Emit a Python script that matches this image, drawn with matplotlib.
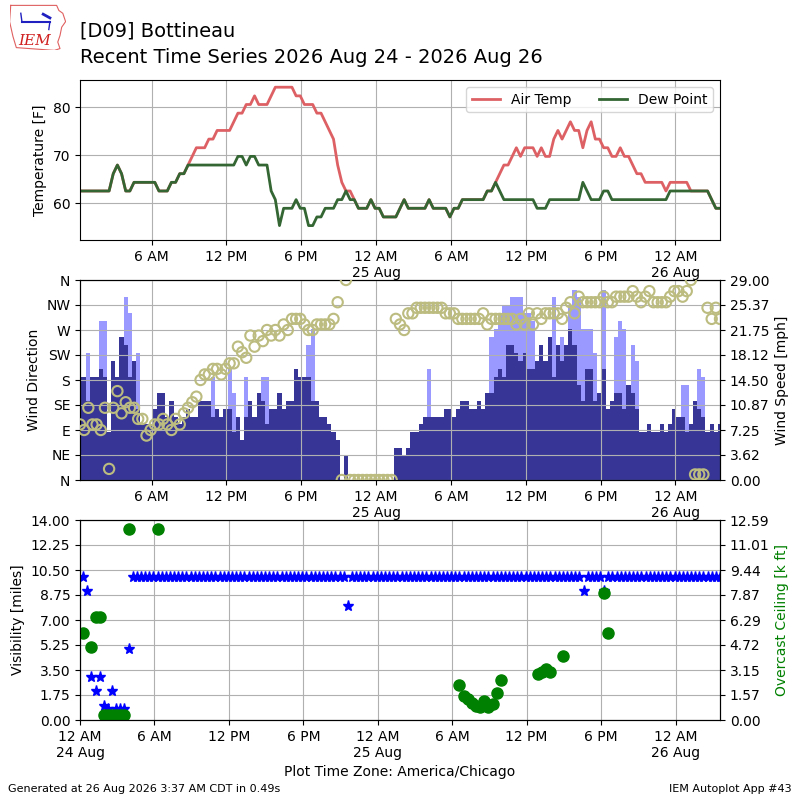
import numpy as np
import pandas as pd
import matplotlib
matplotlib.use("Agg")
import matplotlib.pyplot as plt
import matplotlib.dates as mdates
from matplotlib.ticker import FuncFormatter, FixedLocator

# ---------------- data ----------------
station = "[D09] Bottineau"
subtitle = "Recent Time Series 2026 Aug 24 - 2026 Aug 26"
generated = "Generated at 26 Aug 2026 3:37 AM CDT in 0.49s"
app_label = "IEM Autoplot App #43"
tz_label = "Plot Time Zone: America/Chicago"

times = pd.date_range("2026-08-24 00:15", periods=155, freq="20min")

tmpf = [
    62.6, 62.6, 62.6, 62.6, 62.6, 62.6, 62.6, 62.6, 66.2, 68.0,
    66.2, 62.6, 62.6, 64.4, 64.4, 64.4, 64.4, 64.4, 64.4, 62.6,
    62.6, 62.6, 64.4, 64.4, 66.2, 66.2, 68.0, 69.8, 71.6, 71.6,
    71.6, 73.4, 73.4, 75.2, 75.2, 75.2, 75.2, 77.0, 78.8, 78.8,
    80.6, 80.6, 82.4, 80.6, 80.6, 80.6, 82.4, 84.2, 84.2, 84.2,
    84.2, 84.2, 82.4, 82.4, 80.6, 80.6, 80.6, 78.8, 78.8, 77.0,
    75.2, 73.4, 68.0, 64.4, 62.6, 62.6, 60.8, 59.0, 59.0, 59.0,
    60.8, 59.0, 59.0, 57.2, 57.2, 57.2, 57.2, 59.0, 60.8, 59.0,
    59.0, 59.0, 59.0, 59.0, 60.8, 59.0, 59.0, 59.0, 59.0, 57.2,
    59.0, 59.0, 60.8, 60.8, 60.8, 60.8, 60.8, 60.8, 62.6, 62.6,
    64.4, 66.2, 68.0, 68.0, 69.8, 71.6, 69.8, 71.6, 71.6, 71.6,
    69.8, 71.6, 69.8, 69.8, 73.4, 75.2, 73.4, 75.2, 77.0, 75.2,
    75.2, 71.6, 75.2, 77.0, 73.4, 73.4, 71.6, 71.6, 69.8, 69.8,
    71.6, 69.8, 69.8, 68.0, 66.2, 66.2, 64.4, 64.4, 64.4, 64.4,
    64.4, 62.6, 64.4, 64.4, 64.4, 64.4, 64.4, 62.6, 62.6, 62.6,
    62.6, 62.6, 60.8, 59.0, 59.0,
]

dwpf = [
    62.6, 62.6, 62.6, 62.6, 62.6, 62.6, 62.6, 62.6, 66.2, 68.0,
    66.2, 62.6, 62.6, 64.4, 64.4, 64.4, 64.4, 64.4, 64.4, 62.6,
    62.6, 62.6, 64.4, 64.4, 66.2, 66.2, 68.0, 68.0, 68.0, 68.0,
    68.0, 68.0, 68.0, 68.0, 68.0, 68.0, 68.0, 68.0, 69.8, 69.8,
    68.0, 69.8, 69.8, 68.0, 68.0, 68.0, 62.6, 60.8, 55.4, 59.0,
    59.0, 59.0, 60.8, 59.0, 59.0, 55.4, 55.4, 57.2, 57.2, 59.0,
    59.0, 59.0, 60.8, 60.8, 62.6, 60.8, 60.8, 59.0, 59.0, 59.0,
    60.8, 59.0, 59.0, 57.2, 57.2, 57.2, 57.2, 59.0, 60.8, 59.0,
    59.0, 59.0, 59.0, 59.0, 60.8, 59.0, 59.0, 59.0, 59.0, 57.2,
    59.0, 59.0, 60.8, 60.8, 60.8, 60.8, 60.8, 60.8, 62.6, 62.6,
    64.4, 62.6, 60.8, 60.8, 60.8, 60.8, 60.8, 60.8, 60.8, 60.8,
    59.0, 59.0, 59.0, 60.8, 60.8, 60.8, 60.8, 60.8, 60.8, 60.8,
    60.8, 64.4, 62.6, 60.8, 60.8, 60.8, 62.6, 62.6, 60.8, 60.8,
    60.8, 60.8, 60.8, 60.8, 60.8, 60.8, 60.8, 60.8, 60.8, 60.8,
    60.8, 60.8, 62.6, 62.6, 62.6, 62.6, 62.6, 62.6, 62.6, 62.6,
    62.6, 62.6, 60.8, 59.0, 59.0,
]

# wind speed [kt]
sknt = [
    13, 13, 10, 13, 13, 14, 13, 6, 15, 13,
    18, 17, 13, 15, 9, 7, 7, 7, 9, 11,
    11, 8, 10, 8, 7, 8, 9, 8, 8, 10,
    10, 10, 8, 9, 8, 9, 9, 6, 8, 5,
    8, 10, 8, 11, 10, 7, 9, 9, 11, 9,
    10, 10, 14, 13, 13, 13, 10, 10, 8, 8,
    7, 6, 5, 0, 3, 0, 0, 0, 0, 0,
    0, 0, 0, 0, 0, 0, 4, 4, 3, 4,
    6, 6, 7, 8, 8, 8, 8, 8, 9, 9,
    8, 9, 10, 10, 9, 9, 10, 9, 11, 11,
    13, 14, 13, 17, 17, 16, 15, 16, 14, 14,
    15, 17, 15, 18, 13, 17, 15, 17, 19, 17,
    12, 10, 14, 14, 10, 11, 14, 9, 10, 11,
    11, 9, 12, 11, 9, 6, 6, 7, 6, 6,
    7, 6, 7, 9, 8, 8, 6, 7, 10, 9,
    8, 6, 7, 6, 7,
]

# wind gusts [kt] (observation index, value)
gust_idx = [2, 5, 6, 11, 12, 14, 32, 36, 37, 40, 44, 45, 55, 56, 84, 99,
            100, 101, 102, 103, 104, 105, 106, 107, 108, 109, 114, 116, 118,
            119, 120, 121, 122, 123, 124, 126, 129, 130, 131, 133, 134, 145,
            146, 149, 150]
gust_kt = [16, 20, 20, 23, 21, 16, 13, 14, 11, 13, 13, 13, 17, 19, 14, 18,
           19, 21, 22, 22, 23, 23, 23, 21, 21, 20, 23, 18, 22,
           24, 23, 19, 19, 19, 16, 24, 18, 20, 19, 17, 15, 12,
           12, 14, 13]

# wind direction [deg]
drct = [
    100, 90, 130, 100, 100, 90, 130, 20, 130, 160,
    120, 140, 130, 130, 110, 110, 80, 90, 100, 100,
    110, 100, 90, 110, 100, 120, 130, 140, 150, 180,
    190, 190, 200, 200, 190, 200, 210, 210, 240, 230,
    220, 260, 240, 260, 250, 270, 260, 270, 260, 280,
    270, 290, 290, 290, 280, 270, 270, 280, 280, 280,
    280, 290, 320, 0, 360, 0, 0, 0, 0, 0,
    0, 0, 0, 0, 0, 0, 290, 280, 270, 300,
    300, 310, 310, 310, 310, 310, 310, 310, 300, 300,
    300, 290, 290, 290, 290, 290, 290, 300, 280, 290,
    290, 290, 290, 290, 290, 280, 290, 280, 300, 280,
    300, 290, 300, 300, 300, 300, 290, 310, 320, 300,
    330, 320, 320, 320, 320, 320, 330, 320, 320, 330,
    330, 330, 330, 340, 330, 320, 330, 340, 320, 320,
    320, 320, 330, 340, 340, 330, 340, 360, 10, 10,
    10, 310, 290, 310, 290,
]

# visibility [miles]
vsby = [
    10, 9, 3, 2, 3, 1, 0.75, 2, 0.75, 0.75,
    0.75, 5, 10, 10, 10, 10, 10, 10, 10, 10,
    10, 10, 10, 10, 10, 10, 10, 10, 10, 10,
    10, 10, 10, 10, 10, 10, 10, 10, 10, 10,
    10, 10, 10, 10, 10, 10, 10, 10, 10, 10,
    10, 10, 10, 10, 10, 10, 10, 10, 10, 10,
    10, 10, 10, 10, 8, 10, 10, 10, 10, 10,
    10, 10, 10, 10, 10, 10, 10, 10, 10, 10,
    10, 10, 10, 10, 10, 10, 10, 10, 10, 10,
    10, 10, 10, 10, 10, 10, 10, 10, 10, 10,
    10, 10, 10, 10, 10, 10, 10, 10, 10, 10,
    10, 10, 10, 10, 10, 10, 10, 10, 10, 10,
    10, 9, 10, 10, 10, 10, 9, 10, 10, 10,
    10, 10, 10, 10, 10, 10, 10, 10, 10, 10,
    10, 10, 10, 10, 10, 10, 10, 10, 10, 10,
    10, 10, 10, 10, 10,
]

# overcast ceiling [k ft] (observation index, value)
ceil_idx = [0, 2, 3, 4, 5, 6, 7, 8, 9, 10, 11, 18,
            91, 92, 93, 94, 95, 96, 97, 98, 99, 100, 101,
            110, 111, 112, 113, 116, 126, 127]
ceil_kft = [5.5, 4.6, 6.5, 6.5, 0.3, 0.3, 0.3, 0.3, 0.3, 0.3, 12.0, 12.0,
            2.2, 1.5, 1.3, 1.1, 0.9, 0.8, 1.2, 0.8, 1.0, 1.7, 2.5,
            2.9, 3.0, 3.2, 3.0, 4.0, 8.0, 5.5]

dir_labels = ["N", "NE", "E", "SE", "S", "SW", "W", "NW", "N"]
KT2MPH = 1.15078

# ---------------- plotting ----------------
smph = np.array(sknt, dtype=float) * KT2MPH
gmph = np.array(gust_kt, dtype=float) * KT2MPH
gtimes = times[gust_idx]
ctimes = times[ceil_idx]


def time_fmt(x, pos=None):
    dt = mdates.num2date(x)
    if dt.hour == 0:
        return dt.strftime("12 AM\n%d %b")
    return dt.strftime("%-I %p")


def style_time_axis(ax):
    ax.xaxis.set_major_locator(mdates.HourLocator(byhour=[0, 6, 12, 18]))
    ax.xaxis.set_major_formatter(FuncFormatter(time_fmt))


fig = plt.figure(figsize=(8, 8), dpi=100)

# logo
lax = fig.add_axes([0.012, 0.937, 0.07, 0.058])
lax.set_xlim(0, 1)
lax.set_ylim(0, 1)
lax.axis("off")
iowa_x = [0.02, 0.84, 0.88, 0.95, 1.0, 0.93, 0.9, 0.86, 0.9, 0.8, 0.12, 0.06, 0.0, 0.02]
iowa_y = [0.97, 0.97, 0.86, 0.8, 0.62, 0.5, 0.32, 0.18, 0.04, 0.0, 0.06, 0.3, 0.62, 0.97]
lax.plot(iowa_x, iowa_y, color="#e06060", lw=0.8)
lax.plot([0.22, 0.72], [0.62, 0.62], color="#2020c0", lw=1.5)
lax.plot([0.22, 0.2], [0.62, 0.8], color="#2020c0", lw=1)
lax.plot([0.6, 0.72], [0.78, 0.7], color="#2020c0", lw=2)
lax.plot([0.72, 0.7], [0.62, 0.45], color="#2020c0", lw=1)
lax.text(0.45, 0.06, "IEM", color="#d02020", fontsize=11, family="DejaVu Serif",
         style="italic", ha="center", va="bottom")

fig.text(0.1, 0.954, station, fontsize=14, va="baseline")
fig.text(0.1, 0.921, subtitle, fontsize=14, va="baseline")

# ---- temperature panel ----
ax1 = fig.add_axes([0.1, 0.7, 0.8, 0.2])
ax1.plot(times, tmpf, color="#dd6064", lw=2, label="Air Temp")
ax1.plot(times, dwpf, color="#336633", lw=2, label="Dew Point")
ax1.set_ylim(52.4, 85.7)
ax1.set_yticks([60, 70, 80])
ax1.set_ylabel("Temperature [F]")
ax1.set_xlim(times[0], times[-1])
style_time_axis(ax1)
ax1.grid(True)
ax1.legend(loc="upper right", ncol=2)

# ---- wind panel ----
ax2 = fig.add_axes([0.1, 0.4, 0.8, 0.25])
ax2s = ax2.twinx()
ax2s.set_zorder(ax2.get_zorder() - 1)
ax2.patch.set_visible(False)
width = 1.0 / 72.0
ax2s.bar(gtimes, gmph, width=width, color="#9999ff", align="center")
ax2s.bar(times, smph, width=width, color="#373696", align="center")
top = max(gust_kt) * KT2MPH * 1.05
ax2s.set_ylim(0, top)
ax2s.yaxis.set_major_locator(FixedLocator(np.linspace(0, top, 9)))
ax2s.yaxis.set_major_formatter(FuncFormatter(lambda v, p: "%.2f" % v))
ax2s.set_ylabel("Wind Speed [mph]")

ax2.scatter(times, drct, s=55, facecolor="none", edgecolor="#bcbc80", linewidths=1.5, zorder=5)
ax2.set_ylim(0, 360)
ax2.set_yticks(range(0, 361, 45))
ax2.set_yticklabels(dir_labels)
ax2.set_ylabel("Wind Direction")
ax2.set_xlim(times[0], times[-1])
style_time_axis(ax2)
ax2.grid(True)

# ---- visibility / ceiling panel ----
ax3 = fig.add_axes([0.1, 0.1, 0.8, 0.25])
ax3.plot(times, vsby, "*", color="b", ms=8, ls="none")
ax3.set_ylim(0, 14)
ax3.yaxis.set_major_locator(FixedLocator(np.linspace(0, 14, 9)))
ax3.yaxis.set_major_formatter(FuncFormatter(lambda v, p: "%.2f" % v))
ax3.set_ylabel("Visibility [miles]")
ax3.set_xlim(pd.Timestamp("2026-08-24 00:00"), times[-1])
style_time_axis(ax3)
ax3.grid(True)
ax3.set_xlabel(tz_label)

ax3c = ax3.twinx()
ax3c.plot(ctimes, ceil_kft, "o", color="g", ms=8, ls="none")
ctop = 12.587
ax3c.set_ylim(0, ctop)
ax3c.yaxis.set_major_locator(FixedLocator(np.linspace(0, ctop, 9)))
ax3c.yaxis.set_major_formatter(FuncFormatter(lambda v, p: "%.2f" % v))
ax3c.set_ylabel("Overcast Ceiling [k ft]", color="g")
ax3c.set_xlim(pd.Timestamp("2026-08-24 00:00"), times[-1])

fig.text(0.01, 0.01, generated, fontsize=8)
fig.text(0.99, 0.01, app_label, fontsize=8, ha="right")

fig.savefig("out.png", dpi=100)
